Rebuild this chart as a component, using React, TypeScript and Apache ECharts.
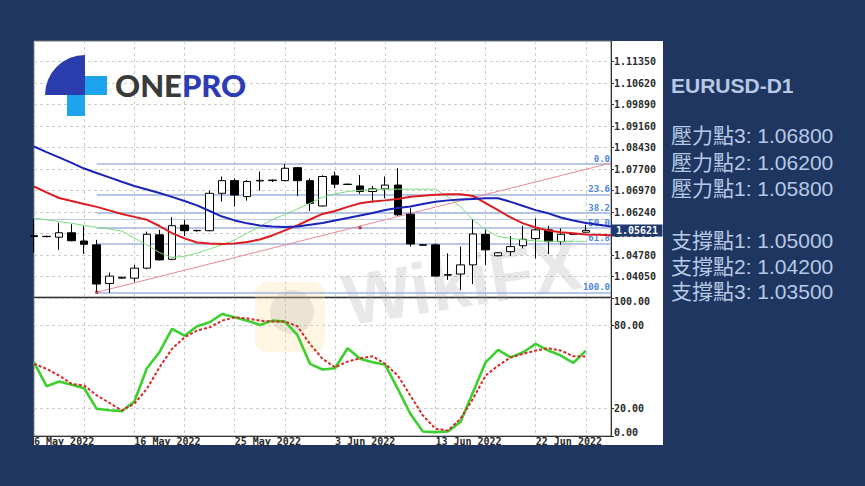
import React, { useEffect, useRef } from "react";
import * as echarts from "echarts";

// ---------- data ----------
const dates = [
  "6 May 2022", "8 May 2022", "9 May 2022", "10 May 2022", "11 May 2022", "12 May 2022", "13 May 2022",
  "15 May 2022", "16 May 2022", "17 May 2022", "18 May 2022", "19 May 2022", "20 May 2022",
  "22 May 2022", "23 May 2022", "24 May 2022", "25 May 2022", "26 May 2022", "27 May 2022",
  "29 May 2022", "30 May 2022", "31 May 2022", "1 Jun 2022", "2 Jun 2022", "3 Jun 2022",
  "5 Jun 2022", "6 Jun 2022", "7 Jun 2022", "8 Jun 2022", "9 Jun 2022", "10 Jun 2022",
  "12 Jun 2022", "13 Jun 2022", "14 Jun 2022", "15 Jun 2022", "16 Jun 2022", "17 Jun 2022",
  "19 Jun 2022", "20 Jun 2022", "21 Jun 2022", "22 Jun 2022", "23 Jun 2022", "24 Jun 2022",
  "26 Jun 2022", "27 Jun 2022", "28 Jun 2022", "29 Jun 2022",
];

// [open, high, low, close]
const ohlc: number[][] = [
  [1.0544, 1.0601, 1.0486, 1.0541],
  [1.0541, 1.0544, 1.0538, 1.0542],
  [1.0539, 1.0588, 1.0496, 1.0554],
  [1.0554, 1.0583, 1.0525, 1.0527],
  [1.0526, 1.0577, 1.0482, 1.0515],
  [1.0513, 1.0530, 1.0353, 1.0380],
  [1.0382, 1.0419, 1.0350, 1.0407],
  [1.0400, 1.0405, 1.0397, 1.0403],
  [1.0400, 1.0445, 1.0388, 1.0434],
  [1.0434, 1.0558, 1.0430, 1.0549],
  [1.0547, 1.0564, 1.0460, 1.0462],
  [1.0464, 1.0607, 1.0461, 1.0578],
  [1.0580, 1.0598, 1.0543, 1.0561],
  [1.0561, 1.0564, 1.0558, 1.0562],
  [1.0561, 1.0697, 1.0559, 1.0688],
  [1.0688, 1.0745, 1.0660, 1.0731],
  [1.0731, 1.0739, 1.0643, 1.0682],
  [1.0677, 1.0733, 1.0663, 1.0728],
  [1.0730, 1.0762, 1.0697, 1.0732],
  [1.0731, 1.0735, 1.0726, 1.0733],
  [1.0731, 1.0787, 1.0729, 1.0773],
  [1.0775, 1.0778, 1.0679, 1.0731],
  [1.0731, 1.0739, 1.0628, 1.0654],
  [1.0645, 1.0749, 1.0643, 1.0745],
  [1.0747, 1.0762, 1.0705, 1.0719],
  [1.0719, 1.0721, 1.0716, 1.0718],
  [1.0713, 1.0750, 1.0686, 1.0694],
  [1.0694, 1.0713, 1.0656, 1.0703],
  [1.0703, 1.0745, 1.0671, 1.0716],
  [1.0716, 1.0773, 1.0611, 1.0615],
  [1.0617, 1.0637, 1.0507, 1.0516],
  [1.0513, 1.0515, 1.0510, 1.0512],
  [1.0513, 1.0518, 1.0405, 1.0407],
  [1.0410, 1.0484, 1.0394, 1.0412],
  [1.0414, 1.0507, 1.0360, 1.0445],
  [1.0445, 1.0600, 1.0380, 1.0550],
  [1.0549, 1.0566, 1.0445, 1.0496],
  [1.0476, 1.0488, 1.0474, 1.0486],
  [1.0490, 1.0543, 1.0475, 1.0507],
  [1.0510, 1.0578, 1.0501, 1.0532],
  [1.0534, 1.0603, 1.0467, 1.0564],
  [1.0564, 1.0577, 1.0482, 1.0524],
  [1.0524, 1.0569, 1.0513, 1.0549],
  [1.0549, 1.0552, 1.0547, 1.0550],
  [1.0556, 1.0581, 1.0555, 1.05621],
];

const maBlue = [
  1.0847, 1.0828, 1.0810, 1.0791, 1.0772, 1.0757, 1.0742, 1.0727, 1.0713, 1.0701,
  1.0689, 1.0676, 1.0662, 1.0647, 1.0628, 1.0609, 1.0596, 1.0586, 1.0579, 1.0575,
  1.0574, 1.0575, 1.0581, 1.0587, 1.0596, 1.0604, 1.0613, 1.0621, 1.0631, 1.0638,
  1.0643, 1.0652, 1.0659, 1.0664, 1.0667, 1.0669, 1.0671, 1.0671, 1.0659, 1.0645,
  1.0631, 1.0620, 1.0606, 1.0596, 1.0587, 1.0581, 1.0575,
];
const maRed = [
  1.0711, 1.0691, 1.0672, 1.0662, 1.0652, 1.0642, 1.0630, 1.0618, 1.0608, 1.0598,
  1.0577, 1.0553, 1.0535, 1.0521, 1.0518, 1.0516, 1.0518, 1.0523, 1.0531, 1.0545,
  1.0562, 1.0579, 1.0599, 1.0618, 1.0628, 1.0642, 1.0654, 1.0660, 1.0664, 1.0669,
  1.0676, 1.0680, 1.0683, 1.0685, 1.0685, 1.0679, 1.0655, 1.0631, 1.0606, 1.0586,
  1.0572, 1.0562, 1.0556, 1.0552, 1.0548, 1.0547, 1.0546,
];
const maGreen = [
  1.0604, 1.0598, 1.0592, 1.0586, 1.0579, 1.0572, 1.0567, 1.0560, 1.0536, 1.0513,
  1.0487, 1.0470, 1.0474, 1.0485, 1.0499, 1.0513, 1.0530, 1.0553, 1.0575, 1.0599,
  1.0616, 1.0635, 1.0654, 1.0674, 1.0686, 1.0694, 1.0698, 1.0700, 1.0702, 1.0702,
  1.0702, 1.0702, 1.0702, 1.0676, 1.0642, 1.0598, 1.0564, 1.0541, 1.0535, 1.0530,
  1.0526, 1.0525, 1.0525, 1.0525, 1.0525, null, null,
];

const stochK = [
  53.4, 36.1, 39.5, 37.1, 34.6, 19.7, 18.7, 18.0, 25.0, 49.1, 60.7, 77.6, 72.7, 79.5, 82.4,
  88.4, 86.0, 83.6, 80.5, 83.6, 82.9, 73.2, 52.3, 48.2, 49.1, 63.6, 55.9, 53.4, 51.6, 34.2,
  16.1, 3.3, 2.8, 3.3, 10.1, 31.7, 53.4, 62.4, 57.0, 60.7, 66.7, 61.9, 58.3, 53.0, 61.9,
];
const stochD = [
  52.3, 48.7, 43.8, 37.8, 36.6, 29.4, 24.1, 18.5, 23.4, 34.2, 49.8, 63.1, 71.5, 76.4, 78.7,
  83.6, 86.0, 85.2, 83.6, 82.9, 82.9, 79.5, 66.7, 55.9, 49.8, 53.9, 56.3, 57.8, 52.3, 43.8,
  29.4, 14.9, 5.3, 4.0, 12.5, 27.0, 43.8, 51.0, 57.0, 59.5, 61.9, 63.6, 61.9, 57.8, 57.6,
];

const fibNames = ["0.0", "23.6", "38.2", "50.0", "61.8", "100.0"];
const fibPrices = [1.0787, 1.0684, 1.0621, 1.0570, 1.0518, 1.0352];
const fibStartIndex = 5;
const trendPoints = [[5, 1.0352], [46, 1.0791]];
const trendAnchors = [[5, 1.0352], [25.5, 1.0571]];
const lastPrice = 1.05621;

const priceTicks = [1.0405, 1.0478, 1.0551, 1.0624, 1.0697, 1.077, 1.0843, 1.0916, 1.0989, 1.1062, 1.1135];
const stochTicks = [0, 20, 80, 100];

const panelTitle = "EURUSD-D1";
const resistanceLabels = ["壓力點3", "壓力點2", "壓力點1"];
const resistanceValues = [1.068, 1.062, 1.058];
const supportLabels = ["支撐點1", "支撐點2", "支撐點3"];
const supportValues = [1.05, 1.042, 1.035];

// ---------- styling ----------
const NAVY = "#1f3661";
const PANEL_TEXT = "#b7c9e6";
const axisFont = { fontFamily: "DejaVu Sans Mono", fontSize: 10, fontWeight: "bold" as const, color: "#2a2a2a" };
const dashed = { color: "#cdcdcd", type: [3, 3] as number[], width: 1 };

function buildOption() {
  const panelFont = "21px 'Liberation Sans', 'Noto Sans CJK TC', sans-serif";
  const panelY1 = [135.5, 162, 188.5];
  const panelY2 = [240.5, 266, 291];
  const panelTexts: any[] = [
    {
      type: "text", x: 671, y: 85, z: 20,
      style: { text: panelTitle, font: "bold 21px 'Liberation Sans', sans-serif", fill: PANEL_TEXT, align: "left", verticalAlign: "middle" },
    },
  ];
  resistanceLabels.forEach((l, i) => {
    panelTexts.push({
      type: "text", x: 671, y: panelY1[i], z: 20,
      style: { text: `${l}: ${resistanceValues[i].toFixed(5)}`, font: panelFont, fill: PANEL_TEXT, align: "left", verticalAlign: "middle" },
    });
  });
  supportLabels.forEach((l, i) => {
    panelTexts.push({
      type: "text", x: 671, y: panelY2[i], z: 20,
      style: { text: `${l}: ${supportValues[i].toFixed(5)}`, font: panelFont, fill: PANEL_TEXT, align: "left", verticalAlign: "middle" },
    });
  });

  const graphic: any[] = [
    { type: "rect", z: -5, silent: true, shape: { x: 34, y: 41, width: 629, height: 404 }, style: { fill: "#ffffff" } },
    // watermark
    { type: "rect", z: 1, silent: true, shape: { x: 255, y: 282, width: 70, height: 70, r: 12 }, style: { fill: "rgba(250,220,150,0.28)" } },
    { type: "circle", z: 1, silent: true, shape: { cx: 292, cy: 312, r: 22 }, style: { fill: "rgba(150,150,150,0.18)" } },
    {
      type: "text", z: 1, silent: true, x: 462, y: 282, rotation: 0.16,
      style: { text: "WikiFX", font: "bold 72px 'Liberation Sans', sans-serif", fill: "rgba(150,150,150,0.22)", align: "center", verticalAlign: "middle" },
    },
    // logo
    { type: "sector", z: 6, silent: true, shape: { cx: 85, cy: 95, r: 40, r0: 0, startAngle: Math.PI, endAngle: Math.PI * 1.5, clockwise: true }, style: { fill: "#2b3cae" } },
    { type: "rect", z: 6, silent: true, shape: { x: 85, y: 76, width: 22, height: 19 }, style: { fill: "#1ea4ec" } },
    { type: "rect", z: 6, silent: true, shape: { x: 67, y: 95, width: 18, height: 21 }, style: { fill: "#1ea4ec" } },
    {
      type: "text", z: 6, silent: true, x: 115, y: 85,
      style: {
        text: "{a|ONE}{b|PRO}", align: "left", verticalAlign: "middle",
        rich: {
          a: { fontFamily: "Lato", fontWeight: 900, fontSize: 31, fill: "#3a3a3a", color: "#3a3a3a" },
          b: { fontFamily: "Lato", fontWeight: 900, fontSize: 31, fill: "#2d3cb5", color: "#2d3cb5" },
        },
      },
    },
    ...panelTexts,
  ];

  const fibLines = fibPrices.map((p, i) => [
    { xAxis: fibStartIndex, yAxis: p, name: fibNames[i] },
    { xAxis: dates.length - 1, yAxis: p },
  ]);

  return {
    animation: false,
    backgroundColor: NAVY,
    graphic,
    grid: [
      { left: 34, top: 41, width: 577, height: 256, show: true, borderColor: "#777", borderWidth: 1, backgroundColor: "transparent" },
      { left: 34, top: 298, width: 577, height: 138, show: true, borderColor: "#777", borderWidth: 1, backgroundColor: "transparent" },
    ],
    xAxis: [
      {
        type: "category", gridIndex: 0, data: dates, boundaryGap: false,
        axisLine: { show: true, lineStyle: { color: "#333", width: 1 } },
        axisTick: { show: false }, axisLabel: { show: false },
        splitLine: { show: true, interval: (i: number) => i % 4 === 0, lineStyle: dashed },
      },
      {
        type: "category", gridIndex: 1, data: dates, boundaryGap: false,
        axisLine: { show: true, lineStyle: { color: "#333", width: 1 } },
        axisTick: { show: false },
        axisLabel: { ...axisFont, interval: (i: number) => i % 8 === 0, align: "left", margin: 0 },
        splitLine: { show: true, interval: (i: number) => i % 4 === 0, lineStyle: dashed },
      },
    ],
    yAxis: [
      {
        type: "value", gridIndex: 0, position: "right", min: 1.0336, max: 1.1205, scale: true,
        axisLine: { show: true, lineStyle: { color: "#333" } },
        axisTick: { show: true, length: 3, customValues: priceTicks, lineStyle: { color: "#333" } },
        axisLabel: { ...axisFont, customValues: priceTicks, margin: 3, formatter: (v: number) => v.toFixed(5) },
        splitLine: { show: true, lineStyle: dashed },
      },
      {
        type: "value", gridIndex: 1, position: "right", min: 0, max: 100,
        axisLine: { show: true, lineStyle: { color: "#333" } },
        axisTick: { show: true, length: 3, customValues: stochTicks, lineStyle: { color: "#333" } },
        axisLabel: {
          ...axisFont, customValues: stochTicks, margin: 3,
          formatter: (v: number) => (v === 100 ? `{t|${v.toFixed(2)}}` : v === 0 ? `{b|${v.toFixed(2)}}` : v.toFixed(2)),
          rich: {
            t: { ...axisFont, padding: [7, 0, 0, 0] },
            b: { ...axisFont, padding: [0, 0, 7, 0] },
          },
        },
        splitLine: { show: true, lineStyle: dashed },
      },
    ],
    series: [
      {
        type: "candlestick", xAxisIndex: 0, yAxisIndex: 0, barWidth: 8, z: 3,
        data: ohlc.map(([o, h, l, c]) => [o, c, l, h]),
        itemStyle: { color: "#ffffff", color0: "#000000", borderColor: "#000000", borderColor0: "#000000", borderWidth: 1 },
      },
      {
        type: "line", xAxisIndex: 0, yAxisIndex: 0, data: trendPoints, showSymbol: false, z: 2,
        lineStyle: { color: "#e88a98", width: 1 },
        markLine: {
          silent: true, symbol: "none", z: 1,
          lineStyle: { color: "#9fb5df", width: 1.5, type: "solid" },
          label: {
            position: "insideEndTop", distance: 1, formatter: "{b}", color: "#4b87dc",
            fontFamily: "DejaVu Sans Mono", fontSize: 9, fontWeight: "bold",
          },
          data: fibLines,
        },
      },
      {
        type: "scatter", xAxisIndex: 0, yAxisIndex: 0, data: trendAnchors, symbol: "rect", symbolSize: 3, z: 4,
        itemStyle: { color: "#a01818" },
      },
      {
        type: "line", xAxisIndex: 0, yAxisIndex: 0, data: maGreen, showSymbol: false, z: 4,
        lineStyle: { color: "#7ddc7d", width: 1 },
      },
      {
        type: "line", xAxisIndex: 0, yAxisIndex: 0, data: maRed, showSymbol: false, z: 5,
        lineStyle: { color: "#dd1c22", width: 2 },
      },
      {
        type: "line", xAxisIndex: 0, yAxisIndex: 0, data: maBlue, showSymbol: false, z: 5,
        lineStyle: { color: "#1a22b8", width: 2 },
        markLine: {
          silent: true, symbol: "none", z: 1,
          lineStyle: { color: "#b9c9e6", width: 1, type: "solid" },
          label: { show: false },
          data: [{ yAxis: lastPrice }],
        },
        markPoint: {
          silent: true, z: 9,
          symbol: "rect", symbolSize: [51, 12], symbolOffset: [26, 0],
          itemStyle: { color: "#1f3a70" },
          label: {
            show: true, position: "inside", formatter: lastPrice.toFixed(5), color: "#ffffff",
            fontFamily: "DejaVu Sans Mono", fontSize: 10, fontWeight: "bold",
          },
          data: [{ coord: [dates.length - 1, lastPrice] }],
        },
      },
      {
        type: "line", xAxisIndex: 1, yAxisIndex: 1, data: stochK, showSymbol: false, z: 4,
        lineStyle: { color: "#3ccf2e", width: 2.6 },
      },
      {
        type: "line", xAxisIndex: 1, yAxisIndex: 1, data: stochD, showSymbol: false, z: 5,
        lineStyle: { color: "#d42a2a", width: 2, type: [3, 2] },
      },
    ],
  };
}

export default function App() {
  const ref = useRef<HTMLDivElement>(null);
  useEffect(() => {
    const chart = echarts.init(ref.current as HTMLDivElement, null, { renderer: "svg" });
    chart.setOption(buildOption() as any);
    return () => chart.dispose();
  }, []);
  return <div ref={ref} style={{ position: "fixed", left: 0, top: 0, width: 865, height: 486 }} />;
}
